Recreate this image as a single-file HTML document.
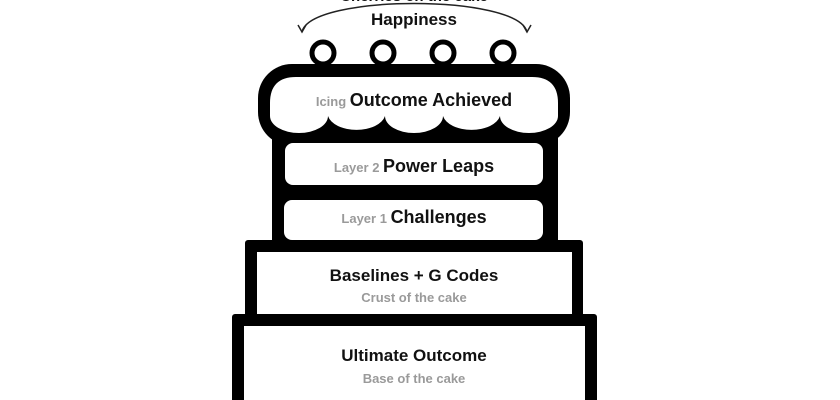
<!DOCTYPE html>
<html><head><meta charset="utf-8"><style>
html,body{margin:0;padding:0;background:#fff;width:840px;height:400px;overflow:hidden}
svg{display:block}
text{font-family:"Liberation Sans",sans-serif}
.b{font-weight:bold;fill:#111;font-size:17px}
.g{font-weight:bold;fill:#9a9a9a;font-size:13px}
</style></head><body>
<svg width="840" height="400" viewBox="0 0 840 400" xmlns="http://www.w3.org/2000/svg">
<text x="414" y="1" text-anchor="middle" class="b" style="font-size:15px">Cherries on the cake</text>
<text x="414" y="25" text-anchor="middle" class="b">Happiness</text>
<path d="M302,32 C310,-6 518,-6 527,32" fill="none" stroke="#222" stroke-width="1.5"/>
<path d="M298,25 L302,32 L306,25 M523,25 L527,32 L531,25" stroke="#222" stroke-width="1.5" fill="none"/>
<!-- cherries -->
<g fill="#fff" stroke="#000" stroke-width="5">
<circle cx="323" cy="53" r="11"/><circle cx="383" cy="53" r="11"/><circle cx="443" cy="53" r="11"/><circle cx="503" cy="53" r="11"/>
</g>
<!-- tier 1 body -->
<rect x="272" y="110" width="286" height="142" fill="#000"/>
<!-- icing -->
<rect x="258" y="64" width="312" height="82" rx="34" fill="#000"/>
<path d="M296,77 L532,77 Q558,77 558,103 L558,116 A29,17 0 0 1 500,116 A29,17 0 0 1 443,116 A29,17 0 0 1 385,116 A29,17 0 0 1 328,116 A29,17 0 0 1 270,116 L270,103 Q270,77 296,77 Z" fill="#fff"/>
<rect x="285" y="143" width="258" height="42" rx="8" fill="#fff"/>
<rect x="284" y="200" width="259" height="40" rx="8" fill="#fff"/>
<!-- tier 2 -->
<rect x="245" y="240" width="338" height="82" rx="3" fill="#000"/>
<rect x="257" y="252" width="315" height="64" fill="#fff"/>
<!-- tier 3 -->
<rect x="232" y="314" width="365" height="100" rx="3" fill="#000"/>
<rect x="244" y="326" width="341" height="90" fill="#fff"/>
<!-- text -->
<text x="414" y="106" text-anchor="middle"><tspan class="g">Icing </tspan><tspan class="b" style="font-size:18px">Outcome Achieved</tspan></text>
<text x="414" y="172" text-anchor="middle"><tspan class="g">Layer 2  </tspan><tspan class="b" style="font-size:18px">Power Leaps</tspan></text>
<text x="414" y="223" text-anchor="middle"><tspan class="g">Layer 1  </tspan><tspan class="b" style="font-size:18px">Challenges</tspan></text>
<text x="414" y="281" text-anchor="middle" class="b">Baselines + G Codes</text>
<text x="414" y="302" text-anchor="middle" class="g">Crust of the cake</text>
<text x="414" y="361" text-anchor="middle" class="b">Ultimate Outcome</text>
<text x="414" y="383" text-anchor="middle" class="g">Base of the cake</text>
</svg>
</body></html>
